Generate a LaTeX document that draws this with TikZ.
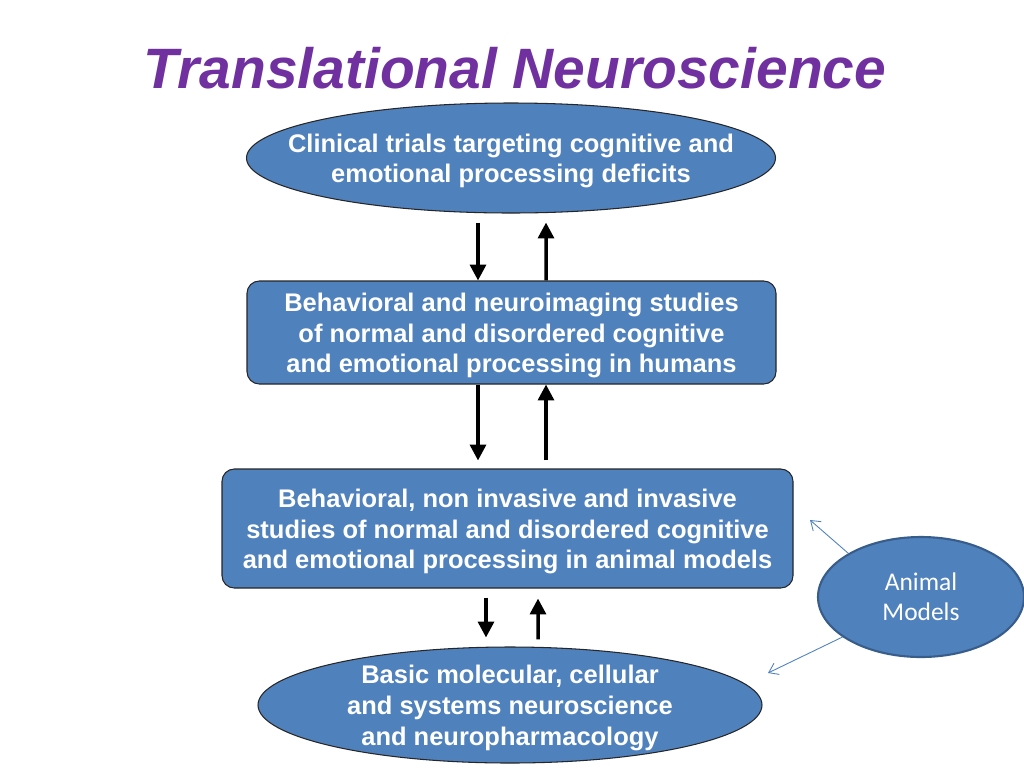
\documentclass[tikz,border=0pt]{standalone}
\usepackage{fontspec}
\setmainfont{Liberation Sans}
\newfontfamily\calfont{Carlito}
\usetikzlibrary{shapes.geometric,arrows.meta}
\definecolor{boxblue}{HTML}{4F81BD}
\definecolor{rimblue}{HTML}{385D8A}
\definecolor{titlepurple}{HTML}{7030A0}
\def\u{0.02cm}
\tikzset{
	box/.style={draw=black!85, line width=0.6pt, fill=boxblue, rounded corners=7pt},
	oval/.style={ellipse, draw=black!85, line width=0.6pt, fill=boxblue, inner sep=0pt},
	txt/.style={text=white, font=\bfseries\fontsize{14.5}{17.6}\selectfont, align=center, yshift=-3*\u},
	updown/.style={line width=2pt, -{Triangle[length=9pt,width=9pt]}},
	pointer/.style={draw=boxblue, line width=0.5pt, -{Straight Barb[length=5pt,width=7pt]}}
}
\begin{document}
\begin{tikzpicture}[x=\u, y=-\u]
				\useasboundingbox (0,0) rectangle (1024,768);
				
				\node[anchor=base, text=titlepurple, font=\bfseries\itshape\fontsize{32.4}{38}\selectfont] (ttl) at (515,88) {Translational Neuroscience};
				
				\node[oval, minimum width=529*\u, minimum height=110*\u,
					label={[txt]center:Clinical trials targeting cognitive and\\emotional processing deficits}] (clin) at (511,158) {};
				\node[box, minimum width=529*\u, minimum height=103*\u,
					label={[txt]center:Behavioral and neuroimaging studies\\of normal and disordered cognitive\\and emotional processing in humans}] (hum) at (511.5,332.5) {};
				\node[box, minimum width=571*\u, minimum height=119*\u,
					label={[txt]center:Behavioral, non invasive and invasive\\studies of normal and disordered cognitive\\and emotional processing in animal models}] (anim) at (507.5,528.5) {};
				\node[oval, minimum width=504*\u, minimum height=116*\u,
					label={[txt]center:Basic molecular, cellular\\and systems neuroscience\\and neuropharmacology}] (basic) at (510,705) {};
				\node[oval, draw=rimblue, line width=1.2pt, minimum width=206*\u, minimum height=120*\u,
					label={[text=white, font=\calfont\fontsize{14.5}{17}\selectfont, align=center]center:Animal\\Models}] (model) at (921,597) {};
				
				% up and down between the levels
				\draw[updown] ([xshift=-33*\u, yshift=-9*\u]clin.south) -- ([xshift=-33.5*\u]hum.north);
				\draw[updown] ([xshift=34.5*\u]hum.north) -- ([xshift=35*\u, yshift=-9*\u]clin.south);
				\draw[updown] ([xshift=-33.5*\u]hum.south) -- ([xshift=-29.5*\u, yshift=8*\u]anim.north);
				\draw[updown] ([xshift=38.5*\u, yshift=8*\u]anim.north) -- ([xshift=34.5*\u]hum.south);
				\draw[updown] ([xshift=-21.5*\u, yshift=-9*\u]anim.south) -- ([xshift=-24*\u, yshift=9*\u]basic.north);
				\draw[updown] ([xshift=28*\u, yshift=7*\u]basic.north) -- ([xshift=30.5*\u, yshift=-10*\u]anim.south);
				
				\coordinate (pa) at (810,520);
				\coordinate (pb) at (768,673);
				\draw[pointer] (model.149) -- (pa);
				\draw[pointer] (model.207) -- (pb);
\end{tikzpicture}
\end{document}
